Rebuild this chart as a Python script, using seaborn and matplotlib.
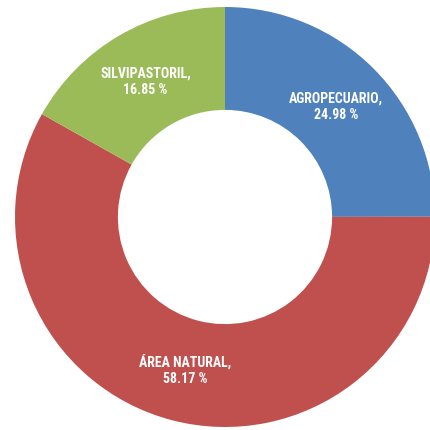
import numpy as np
import seaborn as sns
import matplotlib.pyplot as plt
from matplotlib import font_manager

categories = ["AGROPECUARIO", "ÁREA NATURAL", "SILVIPASTORIL"]
shares = [24.98, 58.17, 16.85]
pct_labels = ["24.98 %", "58.17 %", "16.85 %"]
colors = ["#4F81BD", "#C0504D", "#9BBB59"]

sns.set_theme(style="white")
names = {f.name for f in font_manager.fontManager.ttflist}
family = ["DejaVu Sans"]
for cand in ["Liberation Sans Narrow", "DejaVu Sans Condensed", "Roboto Condensed", "Open Sans Condensed"]:
    if cand in names:
        family = [cand, "DejaVu Sans"]
        break
plt.rcParams["font.family"] = family

fig = plt.figure(figsize=(4.30, 4.31), dpi=100)
ax = fig.add_axes([15 / 430, 3 / 431, 420 / 430, 420 / 431])

wedges, _ = ax.pie(shares, colors=colors, startangle=90, counterclock=False,
                   wedgeprops=dict(width=0.49, linewidth=0))

for w, cat, pl in zip(wedges, categories, pct_labels):
    ang = np.deg2rad((w.theta1 + w.theta2) / 2)
    r = 0.75
    ax.text(r * np.cos(ang), r * np.sin(ang), f"{cat},\n{pl}", ha="center", va="center",
            color="white", fontsize=10, fontweight="bold", fontstretch="condensed",
            linespacing=1.25)

ax.set_xlim(-1, 1)
ax.set_ylim(-1, 1)
ax.set_aspect("equal")
ax.axis("off")
fig.savefig("out.png", dpi=100, facecolor="white")
